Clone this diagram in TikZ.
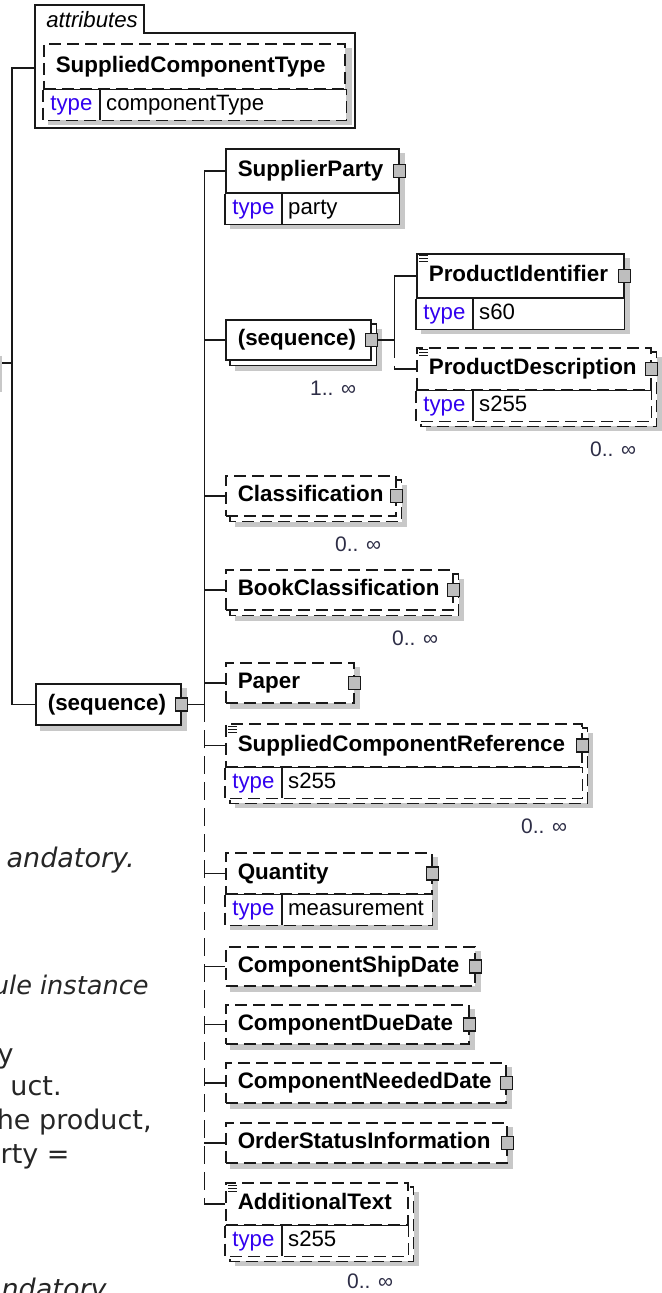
\documentclass[tikz,border=0pt]{standalone}
\usepackage{fontspec}
\setmainfont{Liberation Sans}
\newfontfamily\notefont{DejaVu Sans}
\usepackage{xcolor}
\definecolor{typeblue}{RGB}{50, 0, 240}
\definecolor{multgrey}{RGB}{45, 45, 70}
\definecolor{shadowgrey}{RGB}{200, 200, 200}
\definecolor{pingrey}{RGB}{190, 190, 190}
\definecolor{edgeblack}{RGB}{25, 25, 25}
\usetikzlibrary{
  positioning,
  backgrounds,
  calc
}
\hyphenpenalty=10000
\exhyphenpenalty=10000

\begin{document}
\begin{tikzpicture}[x=0.5pt, y=-0.5pt,
    conn/.style={draw=edgeblack, line width=0.8pt},
    optline/.style={dash pattern=on 6pt off 3pt},
    optspine/.style={dash pattern=on 9pt off 4pt},
    namebox/.style={draw=edgeblack, line width=0.8pt, fill=white, anchor=north west, align=left,
      inner xsep=6pt, inner ysep=0pt, text height=8.2pt, text depth=2.4pt,
      font=\fontsize{11.2}{13}\selectfont\bfseries},
    typecell/.style={fill=white, anchor=north west, inner sep=0pt, minimum width=28pt,
      minimum height=15pt, text height=8pt, text depth=2.3pt, text=typeblue,
      font=\fontsize{11.1}{13}\selectfont},
    valcell/.style={fill=white, anchor=north west, align=left, inner xsep=3pt, inner ysep=0pt,
      minimum height=15pt, text height=8pt, text depth=2.3pt, font=\fontsize{11.1}{13}\selectfont},
    plug/.style={draw=edgeblack, line width=0.7pt, fill=pingrey, inner sep=0pt,
      minimum width=6pt, minimum height=6.5pt},
    multlabel/.style={text=multgrey, anchor=east, inner sep=0pt, font=\fontsize{10.5}{12}\selectfont},
    boxshadow/.style={fill=shadowgrey},
    backbox/.style={draw=edgeblack, line width=0.8pt, fill=white},
    noteicon/.style={draw=edgeblack, line width=0.5pt},
    frag/.style={anchor=base east, inner sep=0pt, text=black!85, font=\notefont\fontsize{13.5}{16}\selectfont},
    fragit/.style={frag, font=\notefont\itshape\fontsize{13.5}{16}\selectfont}
  ]

  \useasboundingbox (0,0) rectangle (662,1293);
  \clip (0,0) rectangle (662,1293);

  % attributes group
  \draw[conn] (35,128) -- (35,5) -- (144,5) -- (144,33) -- (355,33) -- (355,128) -- cycle;
  \node[anchor=west, inner sep=0pt, font=\fontsize{11.1}{13}\selectfont\itshape] (attrtitle) at (46,20) {attributes};
  \coordinate (attrpin) at (35,68);
  \node[namebox, optline, text width=138.5pt, minimum height=22.5pt] (sct) at (43,43) {SuppliedComponentType};
  \node[typecell] (sct-k) at (sct.south west) {type};
  \node[valcell, text width=117pt] (sct-v) at (sct-k.north east) {componentType};
  \draw[conn] (sct-k.north west) -- (sct-v.north east);
  \draw[conn] (sct-k.north east) -- (sct-k.south east);
  \draw[conn, optline] (sct-k.north west) |- (sct-v.south east) -- (sct-v.north east);

  % main sequence and left spine
  \node[namebox, text width=60.5pt, minimum height=20.5pt] (seqa) at (35,683) {(sequence)};
  \node[plug] (seqa-p) at (seqa.east) {};
  \draw[conn] (attrpin) -- ++(-23,0) |- (seqa.west);
  \coordinate (parentpin) at (0,363);
  \coordinate (leftspine) at (12,363);
  \draw[conn] (parentpin) -- (leftspine);
  \draw[shadowgrey, line width=1pt] (1,356) -- (1,392);

  % SupplierParty
  \node[namebox, text width=74.5pt, minimum height=22pt] (sup) at (225,148) {SupplierParty};
  \node[typecell] (sup-k) at (sup.south west) {type};
  \node[valcell, text width=52.5pt] (sup-v) at (sup-k.north east) {party};
  \draw[conn] (sup-k.north east) -- (sup-k.south east);
  \draw[conn] (sup-k.north west) |- (sup-v.south east) -- (sup-v.north east);
  \node[plug] (sup-p) at (sup.east) {};

  % inner sequence, 1..n
  \node[namebox, text width=60.5pt, minimum height=20pt] (seqb) at (225,319) {(sequence)};
  \node[plug] (seqb-p) at (seqb.east) {};
  \node[multlabel] (seqb-m) at ([shift={(-15,28)}]seqb.south east) {1.. ∞};

  % ProductIdentifier
  \node[namebox, text width=91.5pt, minimum height=22pt] (pid) at (416,253) {ProductIdentifier};
  \node[typecell] (pid-k) at (pid.south west) {type};
  \node[valcell, text width=69.5pt] (pid-v) at (pid-k.north east) {s60};
  \draw[conn] (pid-k.north east) -- (pid-k.south east);
  \draw[conn] (pid-k.north west) |- (pid-v.south east) -- (pid-v.north east);
  \node[plug] (pid-p) at (pid.east) {};
  \draw[noteicon] ([shift={(3,3)}]pid.north west) -- ++(9,0) ++(-9,3) -- ++(9,0) ++(-9,3) -- ++(9,0);

  % ProductDescription
  \node[namebox, optline, text width=105pt, minimum height=21pt] (pdesc) at (416,347) {ProductDescription};
  \node[typecell] (pdesc-k) at (pdesc.south west) {type};
  \node[valcell, text width=83pt] (pdesc-v) at (pdesc-k.north east) {s255};
  \draw[conn] (pdesc-k.north west) -- (pdesc-v.north east);
  \draw[conn] (pdesc-k.north east) -- (pdesc-k.south east);
  \draw[conn, optline] (pdesc-k.north west) |- (pdesc-v.south east) -- (pdesc-v.north east);
  \node[plug] (pdesc-p) at (pdesc.east) {};
  \draw[noteicon] ([shift={(3,3)}]pdesc.north west) -- ++(9,0) ++(-9,3) -- ++(9,0) ++(-9,3) -- ++(9,0);
  \node[multlabel] (pdesc-m) at ([shift={(-15,28)}]pdesc-v.south east) {0.. ∞};

  % Classification
  \node[namebox, optline, text width=73pt, minimum height=20pt] (cls) at (225,475) {Classification};
  \node[plug] (cls-p) at (cls.east) {};
  \node[multlabel] (cls-m) at ([shift={(-15,28)}]cls.south east) {0.. ∞};

  % BookClassification
  \node[namebox, optline, text width=101.5pt, minimum height=20pt] (bcls) at (225,569) {BookClassification};
  \node[plug] (bcls-p) at (bcls.east) {};
  \node[multlabel] (bcls-m) at ([shift={(-15,28)}]bcls.south east) {0.. ∞};

  % Paper
  \node[namebox, optline, text width=52pt, minimum height=20pt] (paper) at (225,662) {Paper};
  \node[plug] (paper-p) at (paper.east) {};

  % SuppliedComponentReference
  \node[namebox, optline, text width=166pt, minimum height=21.5pt] (scref) at (225,723) {SuppliedComponentReference};
  \node[typecell] (scref-k) at (scref.south west) {type};
  \node[valcell, text width=144pt] (scref-v) at (scref-k.north east) {s255};
  \draw[conn] (scref-k.north west) -- (scref-v.north east);
  \draw[conn] (scref-k.north east) -- (scref-k.south east);
  \draw[conn, optline] (scref-k.north west) |- (scref-v.south east) -- (scref-v.north east);
  \node[plug] (scref-p) at (scref.east) {};
  \draw[noteicon] ([shift={(3,3)}]scref.north west) -- ++(9,0) ++(-9,3) -- ++(9,0) ++(-9,3) -- ++(9,0);
  \node[multlabel] (scref-m) at ([shift={(-15,28)}]scref-v.south east) {0.. ∞};

  % Quantity
  \node[namebox, optline, text width=91pt, minimum height=20.5pt] (qty) at (225,852) {Quantity};
  \node[typecell] (qty-k) at (qty.south west) {type};
  \node[valcell, text width=69pt] (qty-v) at (qty-k.north east) {measurement};
  \draw[conn] (qty-k.north west) -- (qty-v.north east);
  \draw[conn] (qty-k.north east) -- (qty-k.south east);
  \draw[conn, optline] (qty-k.north west) |- (qty-v.south east) -- (qty-v.north east);
  \node[plug] (qty-p) at (qty.east) {};

  % dates and status
  \node[namebox, optline, text width=112.5pt, minimum height=19.5pt] (csd) at (225,946) {ComponentShipDate};
  \node[plug] (csd-p) at (csd.east) {};
  \node[namebox, optline, text width=109.5pt, minimum height=19.5pt] (cdd) at (225,1004) {ComponentDueDate};
  \node[plug] (cdd-p) at (cdd.east) {};
  \node[namebox, optline, text width=128pt, minimum height=20pt] (cnd) at (225,1062) {ComponentNeededDate};
  \node[plug] (cnd-p) at (cnd.east) {};
  \node[namebox, optline, text width=128.5pt, minimum height=20pt] (osi) at (225,1122) {OrderStatusInformation};
  \node[plug] (osi-p) at (osi.east) {};

  % AdditionalText
  \node[namebox, optline, text width=79pt, minimum height=21pt] (addt) at (225,1182) {AdditionalText};
  \node[typecell] (addt-k) at (addt.south west) {type};
  \node[valcell, text width=57pt] (addt-v) at (addt-k.north east) {s255};
  \draw[conn] (addt-k.north west) -- (addt-v.north east);
  \draw[conn] (addt-k.north east) -- (addt-k.south east);
  \draw[conn, optline] (addt-k.north west) |- (addt-v.south east) -- (addt-v.north east);
  \draw[noteicon] ([shift={(3,3)}]addt.north west) -- ++(9,0) ++(-9,3) -- ++(9,0) ++(-9,3) -- ++(9,0);
  \node[multlabel] (addt-m) at ([shift={(-15,25)}]addt-v.south east) {0.. ∞};

  % main spine
  \coordinate[right=8pt of seqa-p.east] (mainspine);
  \draw[conn] (seqa-p.east) -- (mainspine);
  \draw[conn] (mainspine) |- (sup.west);
  \draw[conn, optspine] (mainspine) -- (mainspine |- addt.west);
  \draw[conn] (mainspine |- seqb.west) -- (seqb.west);
  \draw[conn] (mainspine |- cls.west) -- (cls.west);
  \draw[conn] (mainspine |- bcls.west) -- (bcls.west);
  \draw[conn] (mainspine |- paper.west) -- (paper.west);
  \draw[conn] (mainspine |- scref.west) -- (scref.west);
  \draw[conn] (mainspine |- qty.west) -- (qty.west);
  \draw[conn] (mainspine |- csd.west) -- (csd.west);
  \draw[conn] (mainspine |- cdd.west) -- (cdd.west);
  \draw[conn] (mainspine |- cnd.west) -- (cnd.west);
  \draw[conn] (mainspine |- osi.west) -- (osi.west);
  \draw[conn] (mainspine |- addt.west) -- (addt.west);

  % inner spine
  \coordinate[right=8pt of seqb-p.east] (subspine);
  \draw[conn] (seqb-p.east) -- (subspine);
  \draw[conn] (subspine) |- (pid.west);
  \draw[conn, optspine] (subspine) -- (subspine |- pdesc.west);
  \draw[conn] (subspine |- pdesc.west) -- (pdesc.west);

  % cut-off text on the left
  \node[fragit] (fragmand) at (135,867) {andatory.};
  \node[fragit, font=\notefont\itshape\fontsize{12.8}{16}\selectfont] (fraginst) at (149,994) {ule instance};
  \node[frag] (fragy) at (14,1063) {y};
  \node[frag] (fraguct) at (62,1095) {uct.};
  \node[frag] (fragprod) at (152,1129) {he product,};
  \node[frag] (fragparty) at (70,1163) {arty =};
  \node[fragit] (fragmand2) at (107,1298) {andatory};

  % shadows and stacked boxes
  \begin{scope}[on background layer]
    \fill[boxshadow] ([shift={(5,5)}]sct.north west) rectangle ([shift={(5,5)}]sct-v.south east);
    \fill[boxshadow] ([shift={(5,5)}]seqa.north west) rectangle ([shift={(5,5)}]seqa.south east);
    \fill[boxshadow] ([shift={(5,5)}]sup.north west) rectangle ([shift={(5,5)}]sup-v.south east);
    \fill[boxshadow] ([shift={(10,10)}]seqb.north west) rectangle ([shift={(10,10)}]seqb.south east);
    \draw[backbox] ([shift={(5,5)}]seqb.north west) rectangle ([shift={(5,5)}]seqb.south east);
    \fill[boxshadow] ([shift={(5,5)}]pid.north west) rectangle ([shift={(5,5)}]pid-v.south east);
    \fill[boxshadow] ([shift={(10,10)}]pdesc.north west) rectangle ([shift={(10,10)}]pdesc-v.south east);
    \draw[backbox, optline] ([shift={(5,5)}]pdesc.north west) rectangle ([shift={(5,5)}]pdesc-v.south east);
    \fill[boxshadow] ([shift={(10,10)}]cls.north west) rectangle ([shift={(10,10)}]cls.south east);
    \draw[backbox, optline] ([shift={(5,5)}]cls.north west) rectangle ([shift={(5,5)}]cls.south east);
    \fill[boxshadow] ([shift={(10,10)}]bcls.north west) rectangle ([shift={(10,10)}]bcls.south east);
    \draw[backbox, optline] ([shift={(5,5)}]bcls.north west) rectangle ([shift={(5,5)}]bcls.south east);
    \fill[boxshadow] ([shift={(5,5)}]paper.north west) rectangle ([shift={(5,5)}]paper.south east);
    \fill[boxshadow] ([shift={(10,10)}]scref.north west) rectangle ([shift={(10,10)}]scref-v.south east);
    \draw[backbox, optline] ([shift={(5,5)}]scref.north west) rectangle ([shift={(5,5)}]scref-v.south east);
    \fill[boxshadow] ([shift={(5,5)}]qty.north west) rectangle ([shift={(5,5)}]qty-v.south east);
    \fill[boxshadow] ([shift={(5,5)}]csd.north west) rectangle ([shift={(5,5)}]csd.south east);
    \fill[boxshadow] ([shift={(5,5)}]cdd.north west) rectangle ([shift={(5,5)}]cdd.south east);
    \fill[boxshadow] ([shift={(5,5)}]cnd.north west) rectangle ([shift={(5,5)}]cnd.south east);
    \fill[boxshadow] ([shift={(5,5)}]osi.north west) rectangle ([shift={(5,5)}]osi.south east);
    \fill[boxshadow] ([shift={(10,10)}]addt.north west) rectangle ([shift={(10,10)}]addt-v.south east);
    \draw[backbox, optline] ([shift={(5,5)}]addt.north west) rectangle ([shift={(5,5)}]addt-v.south east);
  \end{scope}

\end{tikzpicture}
\end{document}
